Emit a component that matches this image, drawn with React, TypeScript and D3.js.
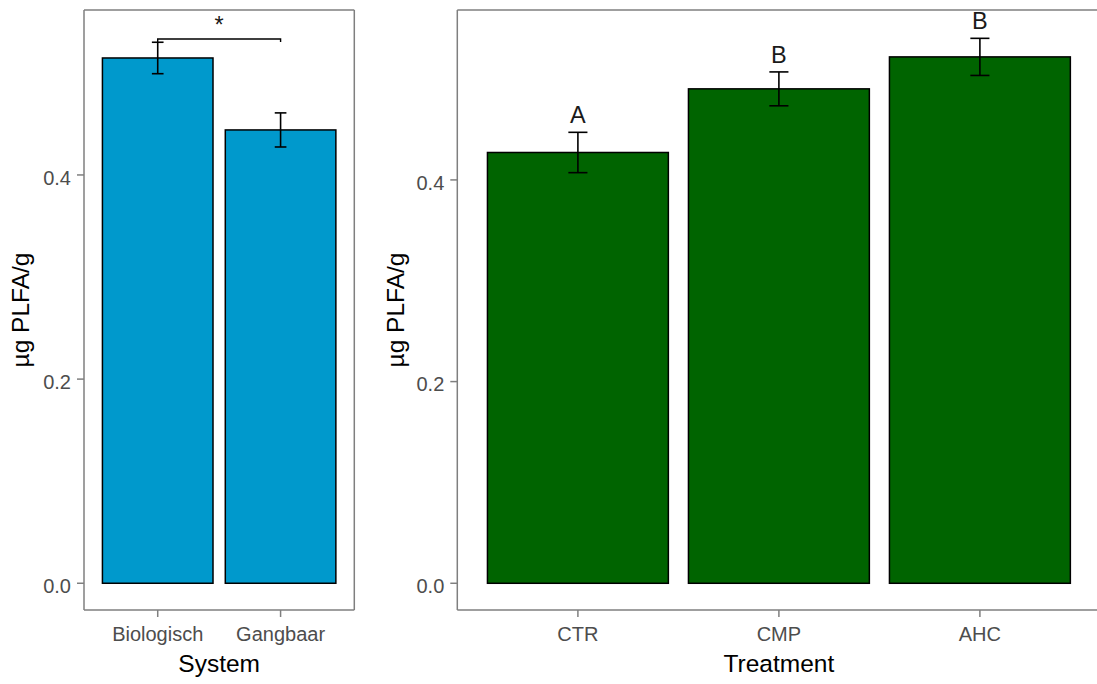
import React from "react";
import * as d3 from "d3";

const systems = ["Biologisch", "Gangbaar"];
const systemMeans = [0.5146, 0.4441];
const systemSE = [0.0154, 0.0167];
const sigLabel = "*";
const sigBracketY = 0.5332;

const treatments = ["CTR", "CMP", "AHC"];
const treatmentMeans = [0.4272, 0.4903, 0.522];
const treatmentSE = [0.02, 0.0168, 0.0184];
const treatmentLetters = ["A", "B", "B"];

const yTicks = [0, 0.2, 0.4];
const yTitle = "µg PLFA/g";

const FONT = "'Liberation Sans', Arial, sans-serif";
const AXIS_GREY = "#7f7f7f";
const TICK_TEXT = "#4d4d4d";

type PanelProps = {
  cats: string[];
  means: number[];
  se: number[];
  x0: number;
  x1: number;
  yDomain: [number, number];
  fill: string;
  xTitle: string;
  titleX: number;
  letters?: string[];
  sig?: { label: string; y: number };
  rightBorder: boolean;
};

function Panel(p: PanelProps) {
  const top = 10;
  const bottom = 610;
  const x = d3
    .scaleBand<string>()
    .domain(p.cats)
    .range([p.x0, p.x1])
    .paddingInner(0.1)
    .paddingOuter(0.15);
  const y = d3.scaleLinear().domain(p.yDomain).range([bottom, top]);
  const step = x.step();
  const capW = step * 0.095;
  const fmt = d3.format(".1f");
  const centers = p.cats.map((c) => (x(c) as number) + x.bandwidth() / 2);
  return (
    <g>
      <line x1={p.x0} x2={p.x1} y1={top} y2={top} stroke={AXIS_GREY} strokeWidth={1.5} />
      <line x1={p.x0} x2={p.x1} y1={bottom} y2={bottom} stroke={AXIS_GREY} strokeWidth={1.5} />
      <line x1={p.x0} x2={p.x0} y1={top} y2={bottom} stroke={AXIS_GREY} strokeWidth={1.5} />
      {p.rightBorder && (
        <line x1={p.x1} x2={p.x1} y1={top} y2={bottom} stroke={AXIS_GREY} strokeWidth={1.5} />
      )}
      {yTicks.map((t) => (
        <g key={t}>
          <line x1={p.x0 - 7} x2={p.x0} y1={y(t)} y2={y(t)} stroke={AXIS_GREY} strokeWidth={1.5} />
          <text
            x={p.x0 - 13}
            y={y(t) + 9.8}
            textAnchor="end"
            fontSize={20}
            fontFamily={FONT}
            fill={TICK_TEXT}
          >
            {fmt(t)}
          </text>
        </g>
      ))}
      {p.cats.map((c, i) => (
        <rect
          key={c}
          x={x(c)}
          y={y(p.means[i])}
          width={x.bandwidth()}
          height={y(0) - y(p.means[i])}
          fill={p.fill}
          stroke="#000"
          strokeWidth={1.5}
        />
      ))}
      {p.cats.map((c, i) => {
        const cx = centers[i];
        const hi = y(p.means[i] + p.se[i]);
        const lo = y(p.means[i] - p.se[i]);
        return (
          <g key={c} stroke="#000" strokeWidth={1.6}>
            <line x1={cx} x2={cx} y1={hi} y2={lo} />
            <line x1={cx - capW / 2} x2={cx + capW / 2} y1={hi} y2={hi} />
            <line x1={cx - capW / 2} x2={cx + capW / 2} y1={lo} y2={lo} />
          </g>
        );
      })}
      {p.letters &&
        p.cats.map((c, i) => (
          <text
            key={c}
            x={centers[i]}
            y={y(p.means[i] + p.se[i]) - 9}
            textAnchor="middle"
            fontSize={23.5}
            fontFamily={FONT}
            fill="#1a1a1a"
          >
            {p.letters![i]}
          </text>
        ))}
      {p.sig && (
        <g>
          <path
            d={`M${centers[0]},${y(p.sig.y) + 3}V${y(p.sig.y)}H${centers[centers.length - 1]}V${
              y(p.sig.y) + 3
            }`}
            fill="none"
            stroke="#000"
            strokeWidth={1.4}
          />
          <text
            x={(centers[0] + centers[centers.length - 1]) / 2}
            y={y(p.sig.y) - 6}
            textAnchor="middle"
            fontSize={23.5}
            fontFamily={FONT}
            fill="#1a1a1a"
          >
            {p.sig.label}
          </text>
        </g>
      )}
      {p.cats.map((c, i) => (
        <g key={c}>
          <line x1={centers[i]} x2={centers[i]} y1={bottom} y2={bottom + 7} stroke={AXIS_GREY} strokeWidth={1.5} />
          <text
            x={centers[i]}
            y={641}
            textAnchor="middle"
            fontSize={20}
            fontFamily={FONT}
            fill={TICK_TEXT}
          >
            {c}
          </text>
        </g>
      ))}
      <text
        x={(p.x0 + p.x1) / 2}
        y={672}
        textAnchor="middle"
        fontSize={24.5}
        fontFamily={FONT}
        fill="#000"
      >
        {p.xTitle}
      </text>
      <text
        transform={`translate(${p.titleX},${(top + bottom) / 2}) rotate(-90)`}
        textAnchor="middle"
        fontSize={24.5}
        fontFamily={FONT}
        fill="#000"
      >
        {yTitle}
      </text>
    </g>
  );
}

export default function App() {
  return (
    <svg
      width={1097}
      height={684}
      style={{ position: "absolute", left: 0, top: 0, background: "#fff" }}
    >
      <rect x={0} y={0} width={1097} height={684} fill="#fff" />
      <Panel
        cats={systems}
        means={systemMeans}
        se={systemSE}
        x0={84}
        x1={354.3}
        yDomain={[-0.0262, 0.5616]}
        fill="#0099cc"
        xTitle="System"
        titleX={29}
        sig={{ label: sigLabel, y: sigBracketY }}
        rightBorder={true}
      />
      <Panel
        cats={treatments}
        means={treatmentMeans}
        se={treatmentSE}
        x0={457.3}
        x1={1100.5}
        yDomain={[-0.0265, 0.5685]}
        fill="#006400"
        xTitle="Treatment"
        titleX={404}
        letters={treatmentLetters}
        rightBorder={false}
      />
    </svg>
  );
}
